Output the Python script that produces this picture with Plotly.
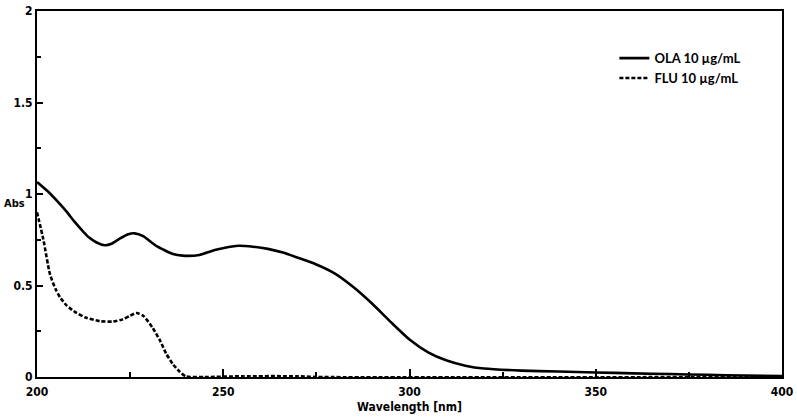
import plotly.graph_objects as go

# Data
ola_wl = [200, 203.5, 205.5, 207.9, 210, 212.4, 214, 216, 218.2, 220, 222.2, 224.5, 226.2, 228.5, 232,
          236.5, 239.1, 243.6, 248, 254, 258, 262, 266, 270, 275, 280, 285, 290, 295, 300, 305,
          310, 315, 320, 330, 340, 350, 360, 370, 380, 390, 400]
ola_abs = [1.065, 1.003, 0.96, 0.905, 0.85, 0.795, 0.762, 0.735, 0.72, 0.728, 0.756, 0.78, 0.785, 0.77, 0.717,
           0.672, 0.663, 0.667, 0.695, 0.717, 0.712, 0.70, 0.68, 0.652, 0.615, 0.565, 0.49, 0.40, 0.30, 0.205, 0.135,
           0.09, 0.062, 0.046, 0.035, 0.03, 0.025, 0.02, 0.016, 0.012, 0.008, 0.005]

flu_wl = [200, 201.7, 203.5, 205, 206.2, 208, 210.6, 213, 216.9, 220.4, 223, 225, 226.7, 228.5,
          231, 233, 234.7, 236.5, 238.3, 240, 245, 255, 270, 275, 400]
flu_abs = [0.9, 0.752, 0.56, 0.48, 0.435, 0.39, 0.35, 0.325, 0.305, 0.303, 0.315, 0.335, 0.35, 0.335,
           0.27, 0.20, 0.127, 0.07, 0.029, 0.003, 0.0, 0.004, 0.004, 0.0, 0.0]

series_names = ["OLA 10 µg/mL", "FLU 10 µg/mL"]
x_ticks = [200, 250, 300, 350, 400]
y_ticks = [0, 0.5, 1, 1.5, 2]
y_tick_text = ["0", "0.5", "1", "1.5", "2"]

tick_font = dict(family="Liberation Sans Narrow, Arial Narrow, DejaVu Sans Condensed, sans-serif",
                 size=12, color="black", weight=700)

fig = go.Figure()
fig.add_trace(go.Scatter(x=ola_wl, y=ola_abs, mode="lines", name=series_names[0],
                         line=dict(color="black", width=2.6, shape="spline", smoothing=0.6)))
fig.add_trace(go.Scatter(x=flu_wl, y=flu_abs, mode="lines", name=series_names[1],
                         line=dict(color="black", width=2.6, dash="4px,2px", shape="spline", smoothing=0.6)))

fig.update_layout(
    width=797, height=419,
    margin=dict(l=37, r=12, t=4, b=42),
    paper_bgcolor="white", plot_bgcolor="white",
    showlegend=True,
    legend=dict(x=0.775, y=0.912, xanchor="left", yanchor="top",
                bgcolor="rgba(0,0,0,0)", itemwidth=30, tracegroupgap=0,
                font=dict(family="Lato, Liberation Sans, sans-serif", size=13, color="black", weight=700)),
    xaxis=dict(range=[200, 400], tickvals=x_ticks, ticktext=[str(v) for v in x_ticks],
               ticks="inside", ticklen=8, tickwidth=2, tickcolor="black",
               minor=dict(tickvals=[225, 275, 325, 375], ticks="inside", ticklen=5, tickwidth=1.5, tickcolor="black"),
               showline=True, linecolor="black", linewidth=2, mirror=True,
               showgrid=False, zeroline=False, tickfont=tick_font, ticklabeloverflow="allow",
               ticklabelstandoff=3,
               title=dict(text="Wavelength [nm]", font=tick_font, standoff=4)),
    yaxis=dict(range=[0, 2], tickvals=y_ticks, ticktext=y_tick_text,
               ticks="inside", ticklen=6, tickwidth=2, tickcolor="black",
               minor=dict(tickvals=[0.25, 0.75, 1.25, 1.75], ticks="inside", ticklen=4, tickwidth=1.5, tickcolor="black"),
               showline=True, linecolor="black", linewidth=2, mirror=True,
               showgrid=False, zeroline=False, tickfont=tick_font, ticklabeloverflow="allow"),
)

abs_font = dict(tick_font, size=11)
fig.add_annotation(text="Abs", xref="paper", yref="y", x=-0.047, y=0.95, xanchor="left", yanchor="middle",
                   showarrow=False, font=abs_font)

fig.write_html("out.html")
